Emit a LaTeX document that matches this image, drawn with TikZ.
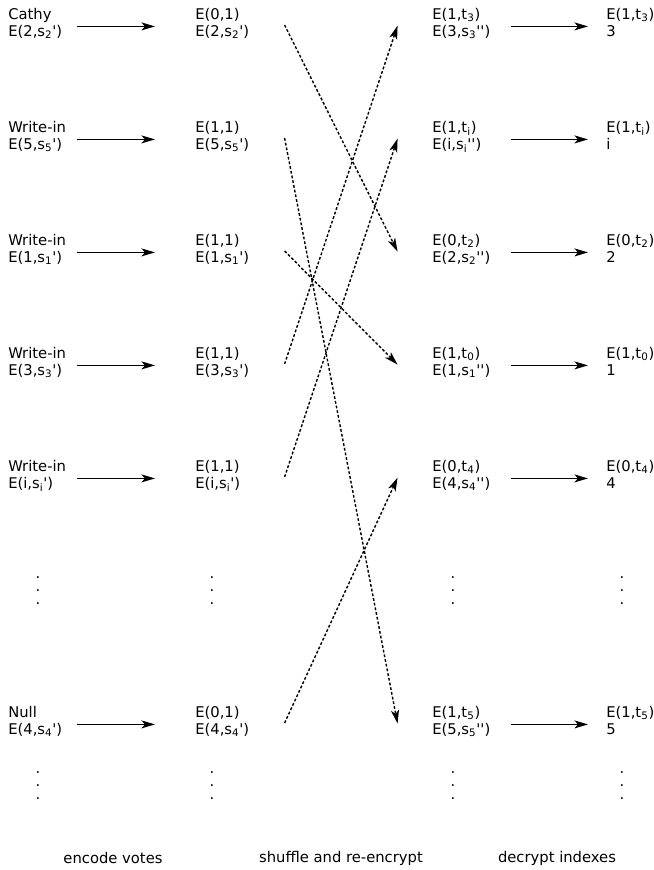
\documentclass[tikz,border=0pt]{standalone}
\usepackage{fontspec}
\setmainfont{DejaVu Sans}[Ligatures=TeXOff]
\usetikzlibrary{arrows.meta}
\newcommand{\low}[1]{\textsubscript{#1}}
\tikzset{ cell/.style = { anchor = north west % two-line entry
        , inner sep = 0pt
        , text width = 1.7cm
        , align = left
        , font = \fontsize{10.5}{12.1}\selectfont
        }
        , dots/.style = { inner sep = 0pt % vertical ellipsis
        , align = center
        , font = \fontsize{10.5}{9.25}\selectfont
        }
        , step_label/.style = { inner sep = 0pt % caption under a stage
        , font = \fontsize{10.5}{12.1}\selectfont
        }
        }

\begin{document}
\begin{tikzpicture}[x=0.025cm, y=-0.025cm,
        pass_style/.style={draw=black, line width=1pt, -{Stealth[length=3.4mm,width=2mm,inset=0.9mm]}},
        mix_style/.style={draw=black, line width=1pt, dash pattern=on 2pt off 1.4pt, -{Stealth[length=3.4mm,width=2mm,inset=0.9mm]}}]
        \useasboundingbox (0,0) rectangle (653,870);

        % ballots as cast
        \node [cell](v1) at (8,8) {Cathy\\E(2,s\low{2}')};
        \node [cell](v2) at (8,121) {Write-in\\E(5,s\low{5}')};
        \node [cell](v3) at (8,234) {Write-in\\E(1,s\low{1}')};
        \node [cell](v4) at (8,347) {Write-in\\E(3,s\low{3}')};
        \node [cell](v5) at (8,460) {Write-in\\E(i,s\low{i}')};
        \node [cell](v6) at (8,706) {Null\\E(4,s\low{4}')};

        % encoded pairs
        \node [cell](e1) at (195,8) {E(0,1)\\E(2,s\low{2}')};
        \node [cell](e2) at (195,121) {E(1,1)\\E(5,s\low{5}')};
        \node [cell](e3) at (195,234) {E(1,1)\\E(1,s\low{1}')};
        \node [cell](e4) at (195,347) {E(1,1)\\E(3,s\low{3}')};
        \node [cell](e5) at (195,460) {E(1,1)\\E(i,s\low{i}')};
        \node [cell](e6) at (195,706) {E(0,1)\\E(4,s\low{4}')};

        % shuffled and re-encrypted
        \node [cell](s1) at (432,8) {E(1,t\low{3})\\E(3,s\low{3}'')};
        \node [cell](s2) at (432,121) {E(1,t\low{i})\\E(i,s\low{i}'')};
        \node [cell](s3) at (432,234) {E(0,t\low{2})\\E(2,s\low{2}'')};
        \node [cell](s4) at (432,347) {E(1,t\low{0})\\E(1,s\low{1}'')};
        \node [cell](s5) at (432,460) {E(0,t\low{4})\\E(4,s\low{4}'')};
        \node [cell](s6) at (432,706) {E(1,t\low{5})\\E(5,s\low{5}'')};

        % decrypted indexes
        \node [cell](d1) at (606,8) {E(1,t\low{3})\\3};
        \node [cell](d2) at (606,121) {E(1,t\low{i})\\i};
        \node [cell](d3) at (606,234) {E(0,t\low{2})\\2};
        \node [cell](d4) at (606,347) {E(1,t\low{0})\\1};
        \node [cell](d5) at (606,460) {E(0,t\low{4})\\4};
        \node [cell](d6) at (606,706) {E(1,t\low{5})\\5};

        % omitted rows
        \foreach \c/\x in {v/38, e/212, s/453, d/622}{
            \node [dots](\c gapa) at (\x,591) {.\\.\\.};
            \node [dots](\c gapb) at (\x,786) {.\\.\\.};
        }

        \foreach \r in {1,...,6}{
            \draw [pass_style] ([yshift=-4.6mm]v\r.north east) -- ([xshift=-1cm,yshift=-4.6mm]e\r.north west);
            \draw [pass_style] ([xshift=2.5mm,yshift=-4.6mm]s\r.north east) -- ([xshift=-4.5mm,yshift=-4.6mm]d\r.north west);
        }

        % permutation
        \foreach \a/\b in {1/3, 2/6, 3/4, 4/1, 5/2, 6/5}{
            \draw [mix_style] ([xshift=5.25mm,yshift=-4.25mm]e\a.north east) -- ([xshift=-8.6mm,yshift=-4.4mm]s\b.north west);
        }

        \node [step_label](l1) at (113,858) {encode votes};
        \node [step_label](l2) at (341,858) {shuffle and re-encrypt};
        \node [step_label](l3) at (557,858) {decrypt indexes};
\end{tikzpicture}
\end{document}
